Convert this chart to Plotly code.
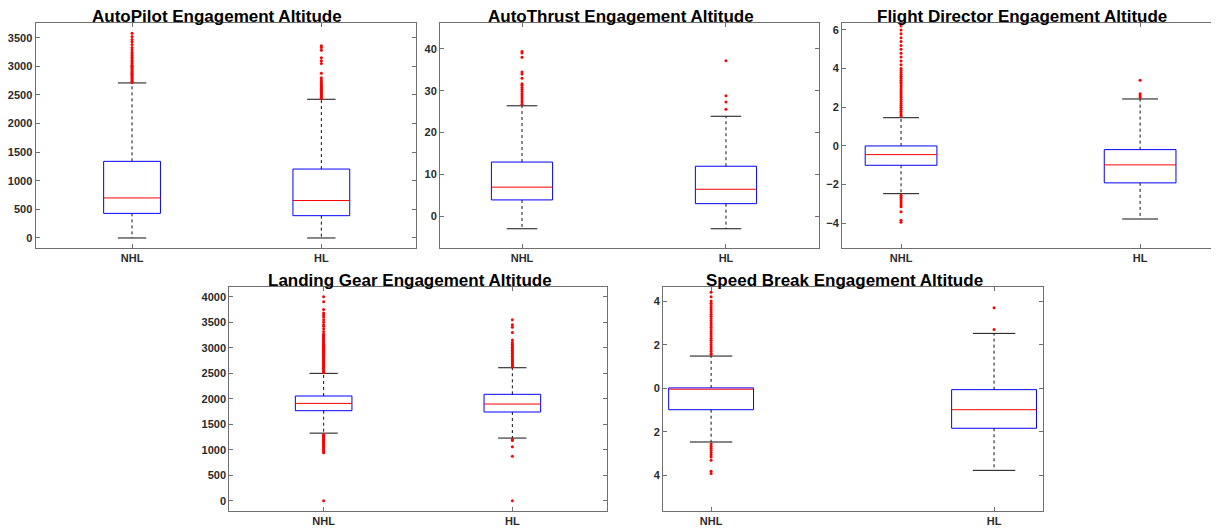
import plotly.graph_objects as go

# page is rendered with an 8px body margin; figure coordinates are page coords minus OFF
OFF = 8
PAGE_W, PAGE_H = 1219, 529
W, H = PAGE_W - OFF, PAGE_H - OFF

categories = ["NHL", "HL"]
titles = [
    "AutoPilot Engagement Altitude",
    "AutoThrust Engagement Altitude",
    "Flight Director Engagement Altitude",
    "Landing Gear Engagement Altitude",
    "Speed Break Engagement Altitude",
]

# ---- AutoPilot ----
ap_lower = [0, 0]
ap_q1 = [430, 390]
ap_median = [700, 655]
ap_q3 = [1340, 1205]
ap_upper = [2710, 2425]
ap_out_nhl = [2720, 2740, 2760, 2780, 2800, 2820, 2840, 2860, 2880, 2900, 2920, 2940,
              2960, 2980, 3000, 3020, 3050, 3080, 3100, 3130, 3160, 3190, 3220, 3250,
              3290, 3330, 3380, 3430, 3470, 3520, 3580]
ap_out_hl = [2440, 2460, 2480, 2500, 2520, 2540, 2560, 2580, 2600, 2620, 2640, 2660,
             2680, 2700, 2730, 2760, 2800, 2880, 3050, 3100, 3150, 3280, 3330, 3360]
ap_yticks = [0, 500, 1000, 1500, 2000, 2500, 3000, 3500]

# ---- AutoThrust ----
at_lower = [-3.0, -3.0]
at_q1 = [3.9, 3.0]
at_median = [6.95, 6.45]
at_q3 = [12.95, 11.95]
at_upper = [26.4, 23.9]
at_out_nhl = [26.8, 27.3, 27.8, 28.3, 28.8, 29.3, 29.8, 30.3, 30.8, 31.3, 31.7,
              33.0, 34.0, 34.5, 38.0, 39.0, 39.4]
at_out_hl = [25.6, 27.3, 28.8, 37.2]
at_yticks = [0, 10, 20, 30, 40]

# ---- Flight Director ----
fd_lower = [-2.47, -3.78]
fd_q1 = [-1.0, -1.91]
fd_median = [-0.45, -0.98]
fd_q3 = [0.0, -0.19]
fd_upper = [1.46, 2.43]
fd_out_nhl = [1.55, 1.6, 1.7, 1.8, 1.9, 2.0, 2.1, 2.2, 2.3, 2.4, 2.5, 2.6, 2.7, 2.8,
              2.9, 3.0, 3.1, 3.2, 3.3, 3.4, 3.5, 3.6, 3.7, 3.8, 3.9, 4.0, 4.2, 4.4,
              4.6, 4.8, 5.0, 5.2, 5.4, 5.6, 5.8, 6.0, 6.2, 6.35,
              -2.55, -2.65, -2.75, -2.85, -2.95, -3.05, -3.15, -3.4, -3.85, -3.95]
fd_out_hl = [2.5, 2.6, 2.7, 3.4]
fd_yticks = [-4, -2, 0, 2, 4, 6]

# ---- Landing Gear ----
lg_lower = [1325, 1228]
lg_q1 = [1765, 1739]
lg_median = [1908, 1895]
lg_q3 = [2053, 2086]
lg_upper = [2497, 2607]
lg_out_nhl = [2510, 2530, 2550, 2570, 2590, 2610, 2630, 2650, 2670, 2690, 2710, 2730,
              2750, 2770, 2790, 2810, 2830, 2850, 2870, 2890, 2910, 2930, 2950, 2970,
              2990, 3010, 3030, 3050, 3070, 3090, 3110, 3130, 3150, 3170, 3190, 3210,
              3230, 3250, 3270, 3320, 3370, 3420, 3450, 3500, 3550, 3600, 3640, 3680,
              3750, 3900, 4000,
              1300, 1280, 1260, 1240, 1220, 1200, 1180, 1160, 1140, 1120, 1100, 1080,
              1060, 1040, 1020, 1000, 980, 960, 940, 0]
lg_out_hl = [2620, 2640, 2660, 2680, 2700, 2720, 2740, 2760, 2780, 2800, 2830, 2860,
             2890, 2920, 2950, 2980, 3010, 3040, 3070, 3100, 3150, 3300, 3400, 3450,
             3550, 1200, 1180, 1060, 870, 0]
lg_yticks = [0, 500, 1000, 1500, 2000, 2500, 3000, 3500, 4000]

# ---- Speed Break ----
sb_lower = [-2.46, -3.76]
sb_q1 = [-0.98, -1.83]
sb_median = [-0.04, -0.98]
sb_q3 = [0.02, -0.06]
sb_upper = [1.48, 2.52]
sb_out_nhl = [1.55, 1.6, 1.7, 1.8, 1.9, 2.0, 2.1, 2.2, 2.3, 2.4, 2.5, 2.6, 2.7, 2.8,
              2.9, 3.0, 3.1, 3.2, 3.3, 3.4, 3.5, 3.6, 3.7, 3.8, 3.9, 4.0, 4.2, 4.4,
              -2.55, -2.65, -2.75, -2.85, -2.95, -3.05, -3.15, -3.3, -3.8, -3.9]
sb_out_hl = [2.7, 3.7]
sb_yticks = [-4, -2, 0, 2, 4]
sb_yticktext = ["4", "2", "0", "2", "4"]

panels = [
    dict(lower=ap_lower, q1=ap_q1, med=ap_median, q3=ap_q3, upper=ap_upper,
         out=[ap_out_nhl, ap_out_hl], yt=ap_yticks, ytt=None,
         px=(35.5, 416, 23, 248), xr=[0.49, 2.5], yr=[-175, 3758]),
    dict(lower=at_lower, q1=at_q1, med=at_median, q3=at_q3, upper=at_upper,
         out=[at_out_nhl, at_out_hl], yt=at_yticks, ytt=None,
         px=(440, 819, 23, 248), xr=[0.598, 2.456], yr=[-7.6, 46.2]),
    dict(lower=fd_lower, q1=fd_q1, med=fd_median, q3=fd_q3, upper=fd_upper,
         out=[fd_out_nhl, fd_out_hl], yt=fd_yticks, ytt=None,
         px=(842, 1219, 23, 248), xr=[0.753, 2.33], yr=[-5.28, 6.36]),
    dict(lower=lg_lower, q1=lg_q1, med=lg_median, q3=lg_q3, upper=lg_upper,
         out=[lg_out_nhl, lg_out_hl], yt=lg_yticks, ytt=None,
         px=(229.3, 606.7, 286.7, 510.7), xr=[0.5, 2.5], yr=[-196, 4196]),
    dict(lower=sb_lower, q1=sb_q1, med=sb_median, q3=sb_q3, upper=sb_upper,
         out=[sb_out_nhl, sb_out_hl], yt=sb_yticks, ytt=sb_yticktext,
         px=(663, 1043, 286.7, 510.7), xr=[0.83, 2.173], yr=[-5.61, 4.66]),
]

BOX_W = 0.30
CAP_W = 0.15
positions = [1, 2]

fig = go.Figure()
tickfont = dict(family="Liberation Sans, Arial, sans-serif", size=11, color="#2b2b2b", weight="bold")
frame_col = "#707070"

for k, p in enumerate(panels):
    idx = "" if k == 0 else str(k + 1)
    xa, ya = "x" + idx, "y" + idx
    for j, xc in enumerate(positions):
        lo, q1, md, q3, up = p["lower"][j], p["q1"][j], p["med"][j], p["q3"][j], p["upper"][j]
        # whiskers
        fig.add_trace(go.Scatter(x=[xc, xc, None, xc, xc], y=[q3, up, None, q1, lo],
                                 mode="lines", line=dict(color="#111111", width=1, dash="3px,3px"),
                                 xaxis=xa, yaxis=ya, showlegend=False, hoverinfo="skip"))
        # caps
        fig.add_trace(go.Scatter(x=[xc - CAP_W / 2, xc + CAP_W / 2, None, xc - CAP_W / 2, xc + CAP_W / 2],
                                 y=[up, up, None, lo, lo],
                                 mode="lines", line=dict(color="#111111", width=1),
                                 xaxis=xa, yaxis=ya, showlegend=False, hoverinfo="skip"))
        # box
        x0, x1 = xc - BOX_W / 2, xc + BOX_W / 2
        fig.add_trace(go.Scatter(x=[x0, x1, x1, x0, x0], y=[q1, q1, q3, q3, q1],
                                 mode="lines", line=dict(color="#0000ff", width=1),
                                 xaxis=xa, yaxis=ya, showlegend=False, hoverinfo="skip"))
        # median
        fig.add_trace(go.Scatter(x=[x0, x1], y=[md, md],
                                 mode="lines", line=dict(color="#ff0000", width=1),
                                 xaxis=xa, yaxis=ya, showlegend=False, hoverinfo="skip"))
        # outliers
        outs = p["out"][j]
        fig.add_trace(go.Scatter(x=[xc] * len(outs), y=outs, mode="markers",
                                 marker=dict(color="#ff0000", size=3, symbol="circle", line=dict(width=0)),
                                 xaxis=xa, yaxis=ya, showlegend=False, hoverinfo="skip", cliponaxis=True))

    L, R, T, B = [v - OFF for v in p["px"]]
    xdom = [max(0.0, L / W), min(1.0, R / W)]
    ydom = [max(0.0, 1 - B / H), min(1.0, 1 - T / H)]
    common = dict(showline=True, linecolor=frame_col, linewidth=1, mirror="ticks",
                  ticks="inside", ticklen=4, tickcolor=frame_col, tickwidth=1,
                  showgrid=False, zeroline=False, tickfont=tickfont, fixedrange=True)
    xaxis = dict(domain=xdom, range=p["xr"], tickvals=positions, ticktext=categories,
                 anchor=ya, **common)
    yaxis = dict(domain=ydom, range=p["yr"], tickvals=p["yt"], anchor=xa, **common)
    if p["ytt"] is not None:
        yaxis["ticktext"] = p["ytt"]
    fig.update_layout(**{"xaxis" + idx: xaxis, "yaxis" + idx: yaxis})

    fig.add_annotation(text=titles[k], xref="paper", yref="paper",
                       x=(L + R) / 2 / W, y=1 - T / H, xanchor="center", yanchor="bottom",
                       xshift=-8.5, yshift=-5, showarrow=False,
                       font=dict(family="Liberation Sans, Arial, sans-serif", size=17,
                                 color="#000000", weight="bold"))

fig.update_layout(width=W, height=H, margin=dict(l=0, r=0, t=0, b=0),
                  paper_bgcolor="white", plot_bgcolor="white", showlegend=False)

fig.write_html("out.html")
